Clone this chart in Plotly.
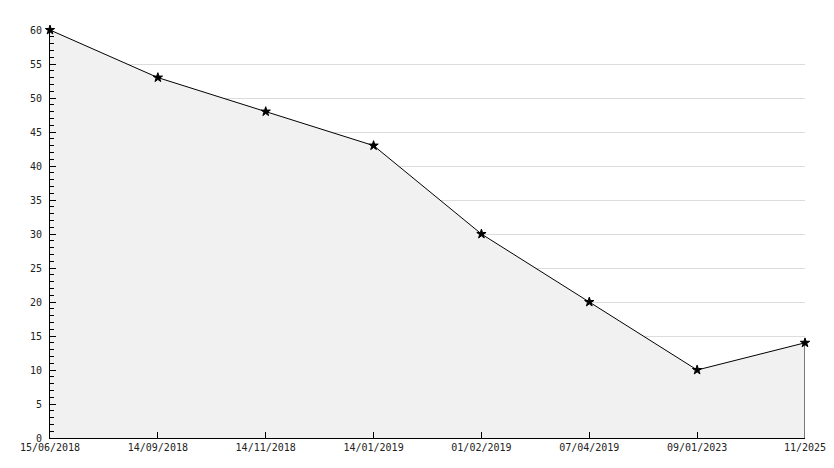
import plotly.graph_objects as go

categories = ["15/06/2018", "14/09/2018", "14/11/2018", "14/01/2019",
              "01/02/2019", "07/04/2019", "09/01/2023", "11/2025"]
values = [60, 53, 48, 43, 30, 20, 10, 14]
y_ticks = list(range(0, 61, 5))

fig = go.Figure()

# filled area with closing right edge down to zero
fig.add_trace(go.Scatter(
    x=categories + [categories[-1]],
    y=values + [0],
    mode="lines",
    fill="tozeroy",
    fillcolor="#f1f1f1",
    line=dict(color="black", width=1),
    hoverinfo="skip",
    showlegend=False,
))

fig.add_trace(go.Scatter(
    x=categories,
    y=values,
    mode="markers",
    cliponaxis=False,
    marker=dict(symbol="star", size=7, color="black", line=dict(color="black", width=1)),
    showlegend=False,
))

font = dict(family="DejaVu Sans Mono", size=10, color="#222222")

fig.update_layout(
    width=834, height=468,
    margin=dict(l=50, r=29, t=30, b=30, autoexpand=False),
    plot_bgcolor="white",
    paper_bgcolor="white",
    font=font,
    xaxis=dict(
        type="category",
        range=[0, 7],
        automargin=False,
        showgrid=False,
        showline=True, linecolor="black", linewidth=1,
        ticks="inside", ticklen=6, tickcolor="black",
        tickfont=font,
        zeroline=False,
    ),
    yaxis=dict(
        range=[0, 60],
        tickvals=y_ticks,
        automargin=False,
        showgrid=True, gridcolor="#dcdcdc", gridwidth=1,
        showline=True, linecolor="black", linewidth=1,
        ticks="inside", ticklen=6, tickcolor="black",
        ticklabelstandoff=5,
        minor=dict(dtick=1, ticks="inside", ticklen=4, tickcolor="black", showgrid=False),
        tickfont=font,
        zeroline=False,
    ),
)

fig.write_html(
    "out.html",
    config={"displayModeBar": False},
    post_script="document.body.style.margin='0';document.body.style.overflow='hidden';",
)
